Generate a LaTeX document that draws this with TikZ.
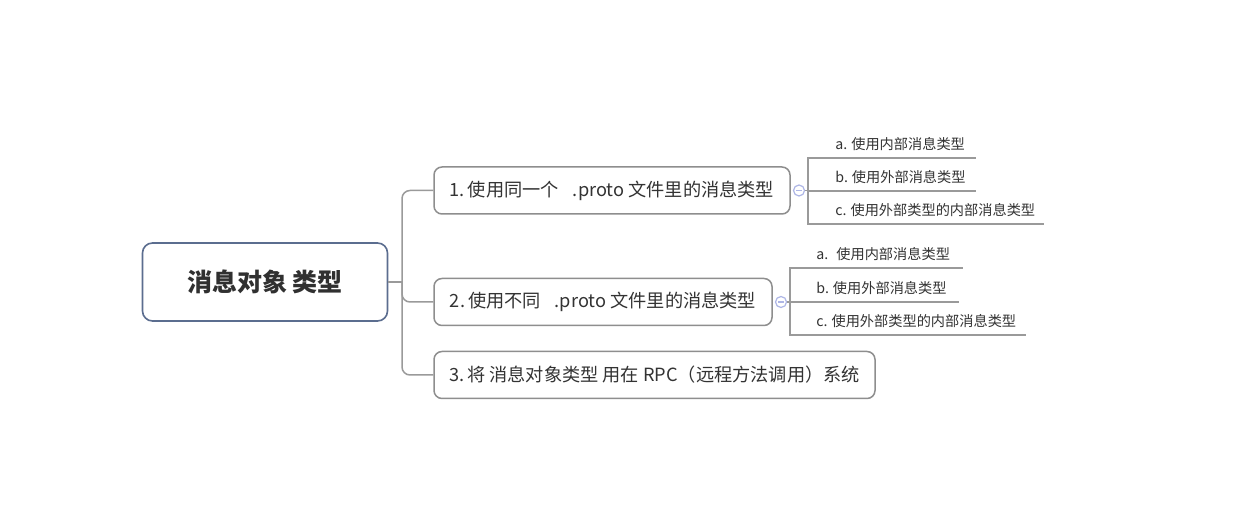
\documentclass[tikz,border=0pt]{standalone}
\usepackage{fontspec}
\setmainfont{Noto Sans CJK SC}
\definecolor{linegray}{HTML}{9A9A9A}
\definecolor{boxgray}{HTML}{8E8E8E}
\definecolor{rootblue}{HTML}{5B6D8F}
\definecolor{txt}{HTML}{333333}
\definecolor{lav}{HTML}{AEB6E6}
\begin{document}
\begin{tikzpicture}[x=0.5pt,y=-0.5pt,
  conn/.style={draw=linegray, line width=0.75pt},
  rootbox/.style={draw=rootblue, line width=0.8pt, rounded corners=5pt, fill=white,
    minimum width=122.5pt, minimum height=39pt, inner sep=0pt,
    font=\fontsize{12.5}{14}\selectfont\bfseries, text=txt!95!black},
  topic/.style={draw=boxgray, line width=0.75pt, rounded corners=4pt, fill=white,
    minimum height=23.5pt, inner sep=0pt,
    font=\fontsize{9.1}{10}\selectfont, text=txt},
  leaf/.style={anchor=south west, inner sep=0pt, minimum height=14pt,
    align=left, font=\fontsize{7.1}{8.5}\selectfont, text=txt},
  fold/.style={circle, draw=lav, line width=0.6pt, fill=white, minimum size=5.5pt, inner sep=0pt,
    path picture={\draw[lav, line width=0.6pt] ([xshift=-1.4pt]path picture bounding box.center) -- ([xshift=1.4pt]path picture bounding box.center);}}
]
\useasboundingbox[fill=white] (0,0) rectangle (1240,522);

% root and main topics
\node[rootbox] (root) at (265,282) {消息对象 类型};
\node[topic, minimum width=178pt] (b1) at (612,190.5) {1.\hspace{1.5pt}使用同一个\hspace{7pt}.proto 文件里的消息类型};
\node[topic, minimum width=169pt] (b2) at (603,302) {2.\hspace{1.5pt}使用不同\hspace{7pt}.proto 文件里的消息类型};
\node[topic, minimum width=220.5pt] (b3) at (654.5,375) {3.\hspace{1.5pt}将 消息对象类型 用在 RPC（远程方法调用）系统};

\coordinate (trunk) at (402,282);
\draw[conn] (root.east) -- (trunk);
\draw[conn, rounded corners=4pt] (trunk) |- (b1.west);
\draw[conn, rounded corners=4pt] (trunk) |- (b2.west);
\draw[conn, rounded corners=4pt] (trunk) |- (b3.west);

% fold markers
\node[fold] (f1) at (799,190.5) {};
\node[fold] (f2) at (781,302) {};
\coordinate (j1) at (808,190.5);
\coordinate (j2) at (790,302);
\draw[conn] (f1.east) -- (j1);
\draw[conn] (f2.east) -- (j2);

% leaves of topic 1
\node[leaf, text width=70pt] (s1a) at (835,158) {a.\hspace{2pt}使用内部消息类型};
\node[leaf, text width=70pt] (s1b) at (835,191) {b.\hspace{2pt}使用外部消息类型};
\node[leaf, text width=104pt] (s1c) at (835,224) {c.\hspace{2pt}使用外部类型的内部消息类型};
\draw[conn] (j1) |- (s1a.south west) -- (s1a.south east);
\draw[conn] (j1) |- (s1b.south west) -- (s1b.south east);
\draw[conn] (j1) |- (s1c.south west) -- (s1c.south east);

% leaves of topic 2
\node[leaf, text width=73pt] (s2a) at (816,268) {a.\hspace{4pt}使用内部消息类型};
\node[leaf, text width=71pt] (s2b) at (816,302) {b.\hspace{2pt}使用外部消息类型};
\node[leaf, text width=104.5pt] (s2c) at (816,335) {c.\hspace{2pt}使用外部类型的内部消息类型};
\draw[conn] (j2) |- (s2a.south west) -- (s2a.south east);
\draw[conn] (j2) |- (s2b.south west) -- (s2b.south east);
\draw[conn] (j2) |- (s2c.south west) -- (s2c.south east);
\end{tikzpicture}
\end{document}
